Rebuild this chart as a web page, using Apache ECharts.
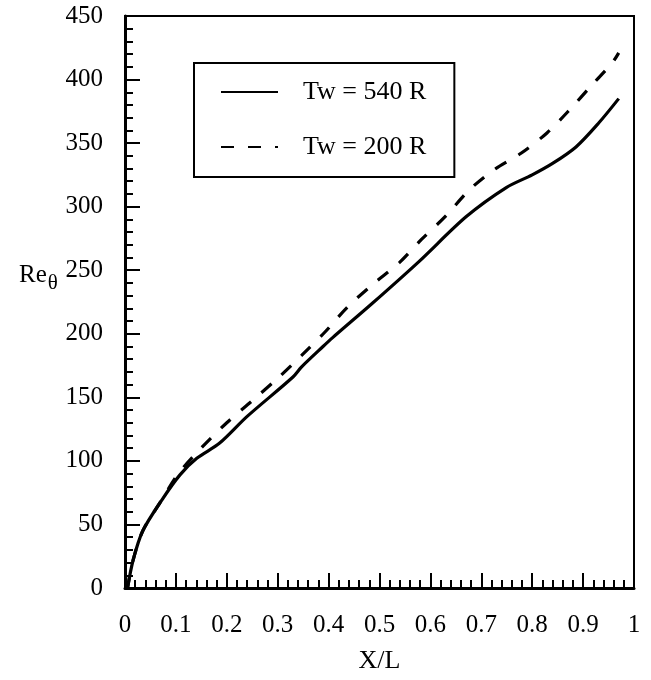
<!DOCTYPE html>
<html>
<head>
<meta charset="utf-8">
<script src="https://cdn.jsdelivr.net/npm/echarts@6/dist/echarts.min.js"></script>
<style>html,body{margin:0;padding:0;background:#fff}#c{width:651px;height:680px}</style>
</head>
<body>
<div id="c"></div>
<script>
// X/L positions and Re_theta values
const xSolid = [0.005, 0.016, 0.035, 0.072, 0.108, 0.141, 0.186, 0.24, 0.33, 0.347, 0.389, 0.408, 0.486, 0.578, 0.67, 0.749, 0.80, 0.84, 0.886, 0.931, 0.97];
const ySolid = [0, 22, 45, 69, 89, 102, 114, 135, 166, 174, 190, 197, 224, 257, 292, 315, 325, 334, 347, 366, 385];
const xDash = [0.005, 0.016, 0.035, 0.07, 0.105, 0.147, 0.2, 0.249, 0.30, 0.347, 0.392, 0.437, 0.49, 0.539, 0.582, 0.631, 0.676, 0.725, 0.778, 0.829, 0.873, 0.918, 0.957, 0.97];
const yDash = [0, 22, 45, 68, 90, 109, 130, 147, 165, 183, 201, 221, 240, 256, 274, 293, 313, 329, 342, 358, 376, 396, 413, 421];
const seriesNames = ['Tw = 540 R', 'Tw = 200 R'];
const xTitle = 'X/L';

const pairs = (xs, ys) => xs.map((x, i) => [x, ys[i]]);
const font = 'Liberation Serif';

const chart = echarts.init(document.getElementById('c'));
chart.setOption({
  animation: false,
  backgroundColor: '#fff',
  title: {
    text: '{a|Re}{b|θ}',
    left: 14, top: 252,
    textStyle: {
      rich: {
        a: {fontFamily: font, fontSize: 25, fontWeight: 'normal', color: '#000'},
        b: {fontFamily: font, fontSize: 21, fontWeight: 'normal', color: '#000', padding: [16, 0, 0, 1]}
      }
    }
  },
  grid: {left: 125, right: 17, top: 16, bottom: 92, show: true, borderColor: '#000', borderWidth: 2},
  legend: {
    orient: 'vertical',
    left: 194, top: 63,
    padding: [16, 28, 17, 26],
    borderColor: '#000', borderWidth: 2,
    itemWidth: 57, itemHeight: 14, itemGap: 29,
    itemStyle: {opacity: 0},
    textStyle: {fontFamily: font, fontSize: 26, color: '#000', padding: [0, 0, 0, 20], lineHeight: 26},
    data: seriesNames
  },
  xAxis: {
    type: 'value', min: 0, max: 1, interval: 0.1,
    name: xTitle, nameLocation: 'middle', nameGap: 60,
    nameTextStyle: {fontFamily: font, fontSize: 26, color: '#000'},
    axisLine: {lineStyle: {color: '#000', width: 3}},
    axisTick: {inside: true, length: 15, lineStyle: {color: '#000', width: 2}},
    minorTick: {show: true, splitNumber: 5, length: 8, lineStyle: {color: '#000', width: 2}},
    axisLabel: {fontFamily: font, fontSize: 25, color: '#000', margin: 25},
    splitLine: {show: false}
  },
  yAxis: {
    type: 'value', min: 0, max: 450, interval: 50,
    axisLine: {show: true, lineStyle: {color: '#000', width: 3}},
    axisTick: {show: true, inside: true, length: 15, lineStyle: {color: '#000', width: 2}},
    minorTick: {show: true, splitNumber: 5, length: 8, lineStyle: {color: '#000', width: 2}},
    axisLabel: {fontFamily: font, fontSize: 25, color: '#000', margin: 22},
    splitLine: {show: false}
  },
  series: [
    {name: seriesNames[0], type: 'line', data: pairs(xSolid, ySolid), symbol: 'none', smooth: 0.3,
     lineStyle: {color: '#000', width: 3.2, type: 'solid'}, itemStyle: {color: '#000'}},
    {name: seriesNames[1], type: 'line', data: pairs(xDash, yDash), symbol: 'none', smooth: 0.3,
     lineStyle: {color: '#000', width: 3.2, type: [13, 14]}, itemStyle: {color: '#000'}}
  ]
});
</script>
</body>
</html>
